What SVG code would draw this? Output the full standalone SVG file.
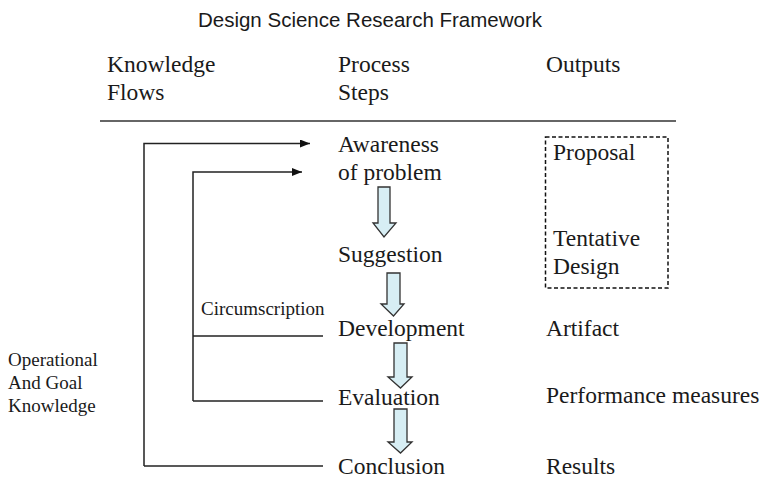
<svg xmlns="http://www.w3.org/2000/svg" width="764" height="478" viewBox="0 0 764 478">
<style>
.t{font-family:"Liberation Serif","Times New Roman",serif;fill:#1a1a1a;font-size:23.5px}
.s{font-family:"Liberation Serif","Times New Roman",serif;fill:#1a1a1a;font-size:19px}
.title{font-family:"Liberation Sans",Arial,sans-serif;fill:#1a1a1a;font-size:20.5px}
.ln{stroke:#222;stroke-width:1.5;fill:none}
.blk{fill:#d7eef4;stroke:#333;stroke-width:1.3;stroke-linejoin:miter}
</style>
<defs>
<marker id="ah" viewBox="0 0 10 8" refX="10" refY="4" markerWidth="10" markerHeight="8" markerUnits="userSpaceOnUse" orient="auto">
<path d="M0,0 L10,4 L0,8 Z" fill="#111"/>
</marker>
</defs>
<rect width="764" height="478" fill="#fff"/>
<g id="title"><text class="title" x="370" y="27" text-anchor="middle">Design Science Research Framework</text></g>
<g id="headers">
<text class="t" x="107" y="72">Knowledge</text>
<text class="t" x="107" y="100">Flows</text>
<text class="t" x="338" y="72">Process</text>
<text class="t" x="338" y="100">Steps</text>
<text class="t" x="546" y="72">Outputs</text>
<line x1="100" y1="121" x2="676" y2="121" stroke="#333" stroke-width="1.5"/>
</g>
<g id="connectors">
<polyline class="ln" points="144,466 144,143.5 310,143.5" marker-end="url(#ah)"/>
<polyline class="ln" points="193,401 193,172 302,172" marker-end="url(#ah)"/>
<line class="ln" x1="193" y1="336" x2="323" y2="336"/>
<line class="ln" x1="144" y1="466" x2="323" y2="466"/>
<line class="ln" x1="193" y1="401" x2="323" y2="401"/>
<path class="blk" d="M378,187 H390 V223 H396 L384,237 L373,223 H378 Z"/>
<path class="blk" d="M387,273 H400 V304 H404 L393.5,316 L381,304 H387 Z"/>
<path class="blk" d="M394,343 H407 V377 H412 L400.5,388 L388,377 H394 Z"/>
<path class="blk" d="M394,409 H407 V442 H412 L400.5,453 L388,442 H394 Z"/>
</g>
<g id="awareness"><text class="t" x="338" y="152">Awareness</text><text class="t" x="338" y="180">of problem</text></g>
<g id="suggestion"><text class="t" x="338" y="262">Suggestion</text></g>
<g id="development"><text class="t" x="338" y="336">Development</text></g>
<g id="evaluation"><text class="t" x="338" y="405">Evaluation</text></g>
<g id="conclusion"><text class="t" x="338" y="474">Conclusion</text></g>
<g id="circumscription"><text class="s" x="201" y="315">Circumscription</text></g>
<g id="operational">
<text class="s" x="8" y="366">Operational</text>
<text class="s" x="8" y="389">And Goal</text>
<text class="s" x="8" y="412">Knowledge</text>
</g>
<g id="outputs-box">
<rect x="545.5" y="137" width="122.5" height="151" fill="none" stroke="#111" stroke-width="1.5" stroke-dasharray="4,2.5"/>
<text class="t" x="553" y="160">Proposal</text>
<text class="t" x="553" y="246">Tentative</text>
<text class="t" x="553" y="274">Design</text>
</g>
<g id="artifact"><text class="t" x="546" y="336">Artifact</text></g>
<g id="performance"><text class="t" x="546" y="403">Performance measures</text></g>
<g id="results"><text class="t" x="546" y="474">Results</text></g>
</svg>
